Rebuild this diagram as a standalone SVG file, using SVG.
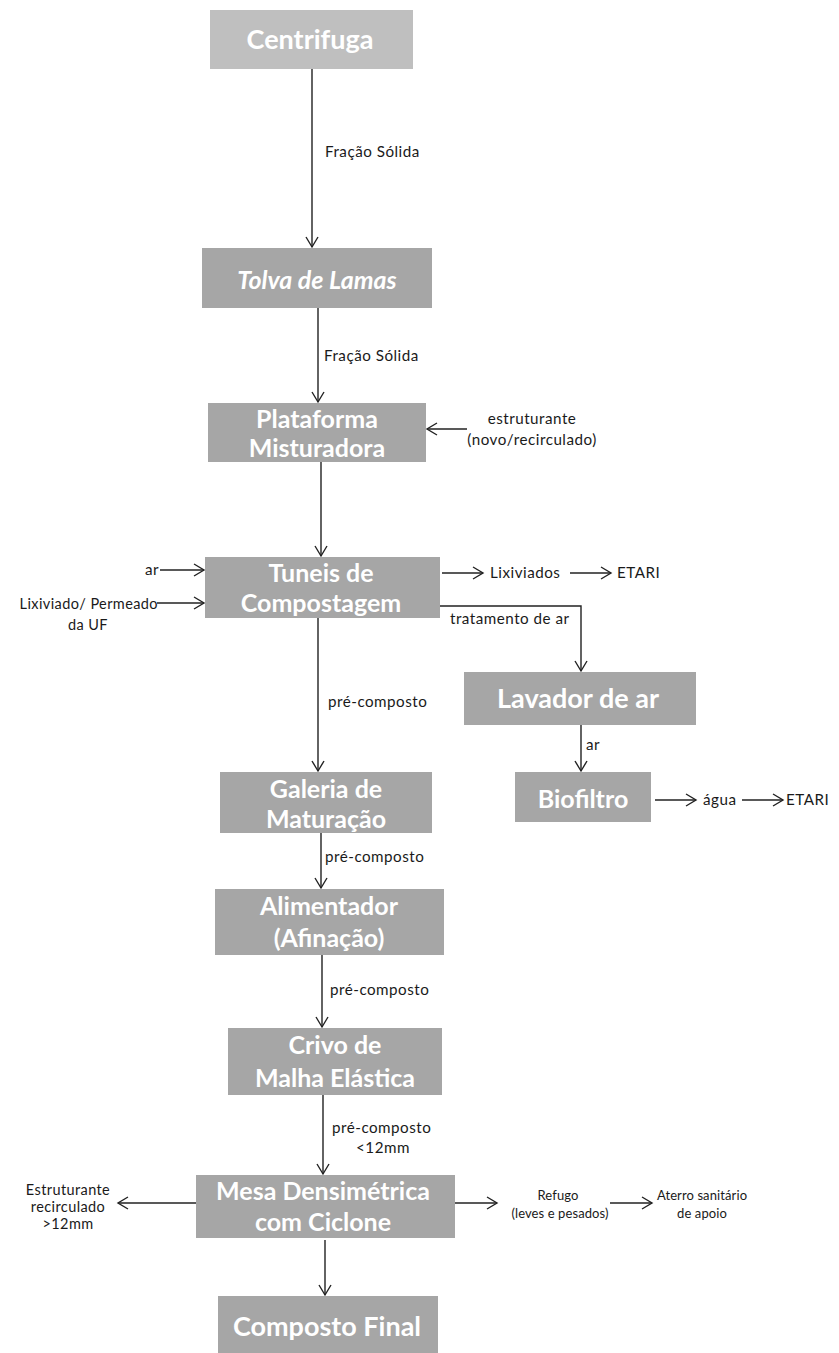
<svg xmlns="http://www.w3.org/2000/svg" width="839" height="1353" viewBox="0 0 839 1353">
  <style>
    .box { fill: #a6a6a6; }
    .box-light { fill: #bfbfbf; }
    .title { font-family: Lato, "Open Sans", sans-serif; font-weight: bold; font-size: 25px; fill: #ffffff; text-anchor: middle; }
    .big { font-size: 27px; }
    .lbl { font-family: Lato, "Open Sans", sans-serif; font-size: 15.2px; letter-spacing: 0.5px; fill: #1a1a1a; }
    .md { font-size: 14.5px; letter-spacing: 0.4px; }
    .sm { font-size: 13px; letter-spacing: 0.1px; }
    .mid { text-anchor: middle; }
    .end { text-anchor: end; }
    .flow { stroke: #222222; stroke-width: 1.4; fill: none; marker-end: url(#arrow); }
  </style>
  <defs>
    <marker id="arrow" markerWidth="14" markerHeight="16" refX="11" refY="7" orient="auto" markerUnits="userSpaceOnUse">
      <path d="M1,1 L11,7 L1,13" fill="none" stroke="#222222" stroke-width="1.4"/>
    </marker>
  </defs>
  <rect width="839" height="1353" fill="#ffffff"/>

  <!-- connectors -->
  <g id="connectors">
    <path class="flow" d="M312,69 L312,247"/>
    <path class="flow" d="M318,308 L318,402"/>
    <path class="flow" d="M467,429 L427,429"/>
    <path class="flow" d="M321,462 L321,556"/>
    <path class="flow" d="M160,570 L204,570"/>
    <path class="flow" d="M157,603 L204,603"/>
    <path class="flow" d="M442,573 L483,573"/>
    <path class="flow" d="M570,573 L611,573"/>
    <path class="flow" d="M440,606 L581,606 L581,671"/>
    <path class="flow" d="M318,618 L318,771"/>
    <path class="flow" d="M581,725 L581,771"/>
    <path class="flow" d="M655,800 L696,800"/>
    <path class="flow" d="M742,800 L783,800"/>
    <path class="flow" d="M321,833 L321,888"/>
    <path class="flow" d="M322,955 L322,1027"/>
    <path class="flow" d="M323,1095 L323,1174"/>
    <path class="flow" d="M196,1203 L118,1203"/>
    <path class="flow" d="M455,1203 L497,1203"/>
    <path class="flow" d="M610,1203 L652,1203"/>
    <path class="flow" d="M325,1240 L325,1295"/>
  </g>

  <!-- connector labels -->
  <g id="labels">
    <text class="lbl" x="325" y="157">Fração Sólida</text>
    <text class="lbl" x="324" y="361">Fração Sólida</text>
    <text class="lbl mid" x="532" y="424">estruturante</text>
    <text class="lbl mid" x="532" y="445">(novo/recirculado)</text>
    <text class="lbl end" x="159" y="575">ar</text>
    <text class="lbl md end" x="158" y="609">Lixiviado/ Permeado</text>
    <text class="lbl md mid" x="88" y="630">da UF</text>
    <text class="lbl" x="490" y="578">Lixiviados</text>
    <text class="lbl" x="617" y="578">ETARI</text>
    <text class="lbl" x="450" y="624">tratamento de ar</text>
    <text class="lbl" x="328" y="707">pré-composto</text>
    <text class="lbl" x="586" y="750">ar</text>
    <text class="lbl" x="703" y="805">água</text>
    <text class="lbl" x="786" y="805">ETARI</text>
    <text class="lbl" x="325" y="862">pré-composto</text>
    <text class="lbl" x="330" y="995">pré-composto</text>
    <text class="lbl" x="332" y="1133">pré-composto</text>
    <text class="lbl mid" x="383" y="1153">&lt;12mm</text>
    <text class="lbl md mid" x="68" y="1195">Estruturante</text>
    <text class="lbl md mid" x="68" y="1212">recirculado</text>
    <text class="lbl md mid" x="68" y="1229">&gt;12mm</text>
    <text class="lbl sm mid" x="558" y="1200">Refugo</text>
    <text class="lbl sm mid" x="560" y="1218">(leves e pesados)</text>
    <text class="lbl sm mid" x="702" y="1200">Aterro sanitário</text>
    <text class="lbl sm mid" x="702" y="1218">de apoio</text>
  </g>

  <!-- process nodes -->
  <g id="centrifuga">
    <rect class="box-light" x="210" y="10" width="203" height="59"/>
    <text class="title big" x="310" y="49">Centrifuga</text>
  </g>
  <g id="tolva">
    <rect class="box" x="202" y="248" width="230" height="60"/>
    <text class="title" x="317" y="289" font-style="italic" font-size="30px">Tolva de Lamas</text>
  </g>
  <g id="plataforma">
    <rect class="box" x="208" y="403" width="218" height="59"/>
    <text class="title" x="317" y="428">Plataforma</text>
    <text class="title" x="317" y="457">Misturadora</text>
  </g>
  <g id="tuneis">
    <rect class="box" x="205" y="557" width="235" height="61"/>
    <text class="title" x="321" y="582">Tuneis de</text>
    <text class="title" x="321" y="612">Compostagem</text>
  </g>
  <g id="lavador">
    <rect class="box" x="464" y="672" width="232" height="53"/>
    <text class="title big" x="578" y="708">Lavador de ar</text>
  </g>
  <g id="biofiltro">
    <rect class="box" x="515" y="772" width="136" height="50"/>
    <text class="title" x="583" y="808">Biofiltro</text>
  </g>
  <g id="galeria">
    <rect class="box" x="220" y="772" width="212" height="61"/>
    <text class="title" x="326" y="798">Galeria de</text>
    <text class="title" x="326" y="828">Maturação</text>
  </g>
  <g id="alimentador">
    <rect class="box" x="215" y="889" width="229" height="66"/>
    <text class="title" x="329" y="915">Alimentador</text>
    <text class="title" x="329" y="947">(Afinação)</text>
  </g>
  <g id="crivo">
    <rect class="box" x="228" y="1028" width="214" height="67"/>
    <text class="title" x="335" y="1054">Crivo de</text>
    <text class="title" x="335" y="1087">Malha Elástica</text>
  </g>
  <g id="mesa">
    <rect class="box" x="196" y="1175" width="259" height="63"/>
    <text class="title" x="323" y="1200">Mesa Densimétrica</text>
    <text class="title" x="323" y="1231">com Ciclone</text>
  </g>
  <g id="composto-final">
    <rect class="box" x="218" y="1296" width="220" height="57"/>
    <text class="title big" x="327" y="1336">Composto Final</text>
  </g>
</svg>
